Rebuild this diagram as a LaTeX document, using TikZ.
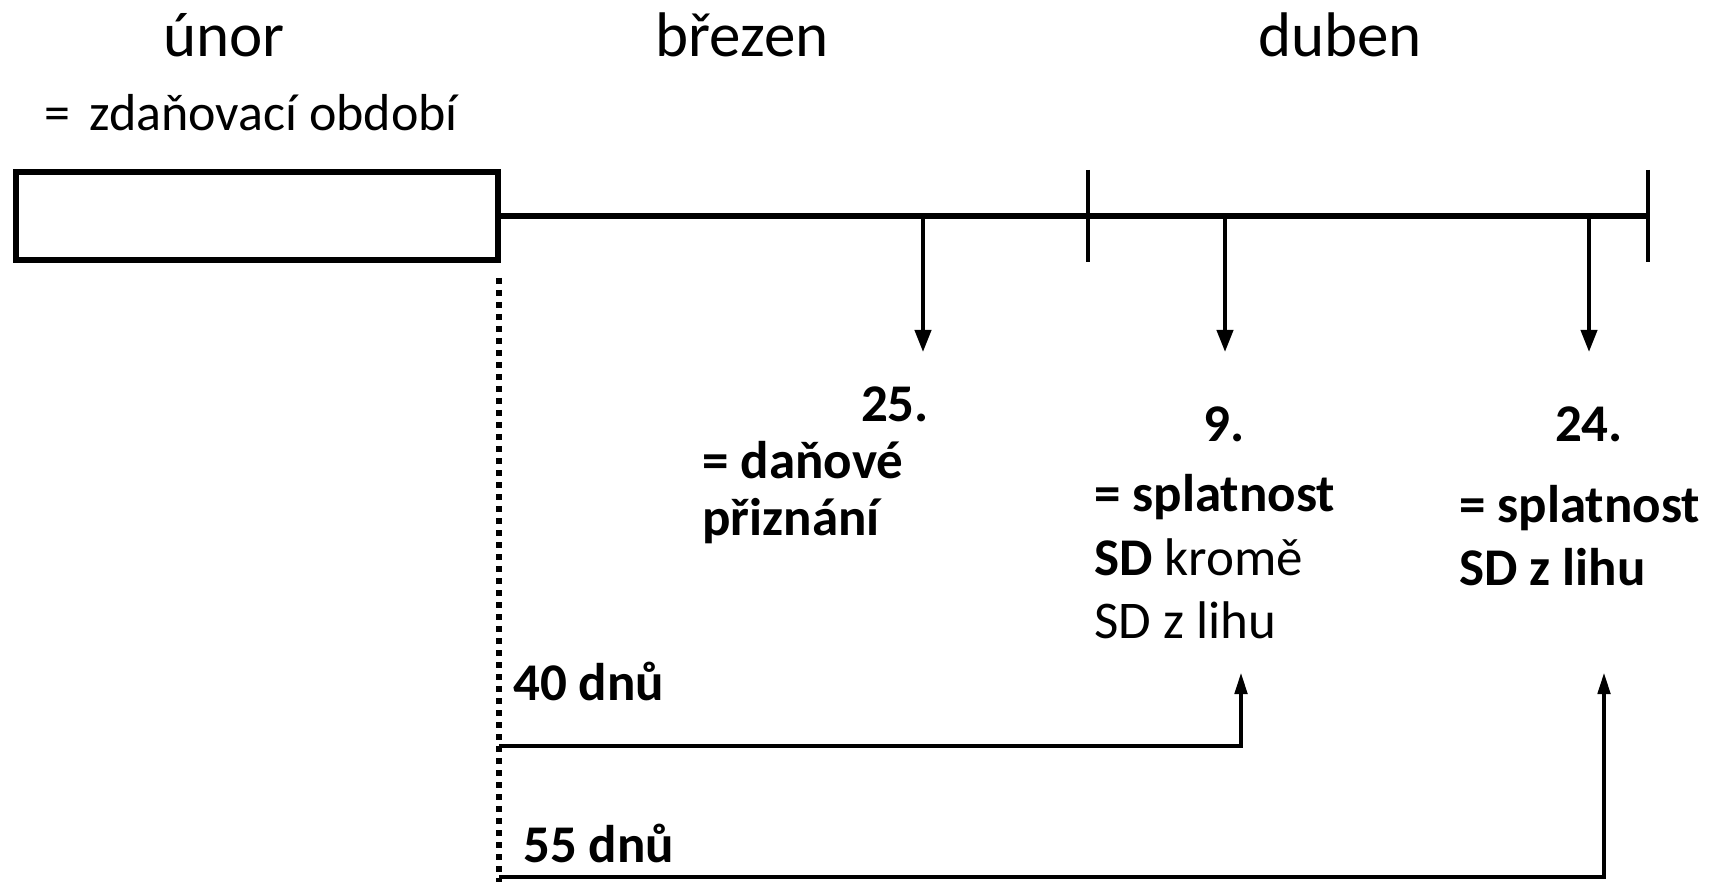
\documentclass[tikz,border=0pt]{standalone}
\usepackage{fontspec}
\setmainfont{Carlito}
\usetikzlibrary{arrows.meta}
\begin{document}
\begin{tikzpicture}[x=1pt,y=-1pt,
  month/.style={font=\fontsize{63}{75}\selectfont, anchor=base, inner sep=0},
  txt/.style={font=\fontsize{53}{64}\selectfont, anchor=base west, inner sep=0},
  btxt/.style={font=\fontsize{53}{64}\selectfont\bfseries, anchor=base west, inner sep=0},
  bnum/.style={font=\fontsize{53}{64}\selectfont\bfseries, anchor=base, inner sep=0},
  thick line/.style={line width=6pt},
  tickline/.style={line width=4.5pt},
  downarrow/.style={line width=4pt, -{Triangle[width=16pt,length=22pt]}},
  uparrow/.style={line width=4.5pt, -{Triangle[width=12pt,length=22pt]}},
  dotline/.style={line width=5.5pt, dash pattern=on 6pt off 6pt}]
\useasboundingbox (0,0) rectangle (1711,882);
% month labels
\node[month] (unor) at (224,57) {únor};
\node[month] (brezen) at (742,57) {březen};
\node[month] (duben) at (1340,57) {duben};
\node[txt, font=\fontsize{52}{62}\selectfont] (zdo) at (44,131) {=\hspace{0.38em}zdaňovací období};
% box
\node[draw, thick line, minimum width=482pt, minimum height=88pt, inner sep=0] (box) at (256.5,216) {};
% timeline
\coordinate (tend) at (1648,216);
\draw[thick line] (box.east) -- (tend);
\draw[tickline] (1088,170) coordinate (m1a) -- (1088,262) coordinate (m1b);
\draw[tickline] (1648,170) coordinate (e1a) -- (1648,262) coordinate (e1b);
% down arrows
\coordinate (a1s) at (923,218); \coordinate (a1e) at (923,352);
\coordinate (a2s) at (1225,218); \coordinate (a2e) at (1225,352);
\coordinate (a3s) at (1589,218); \coordinate (a3e) at (1589,352);
\draw[downarrow] (a1s) -- (a1e);
\draw[downarrow] (a2s) -- (a2e);
\draw[downarrow] (a3s) -- (a3e);
% labels
\node[bnum] (d25) at (895,421) {25.};
\node[btxt] (dp1) at (702,478) {= daňové};
\node[btxt] (dp2) at (702,535) {přiznání};
\node[bnum] (d9) at (1224,442) {9.};
\node[btxt] (s1) at (1094,511) {= splatnost};
\node[txt] (s2) at (1094,575) {\textbf{SD} kromě};
\node[txt] (s3) at (1094,638) {SD z lihu};
\node[bnum] (d24) at (1589,442) {24.};
\node[btxt] (l1) at (1459,522) {= splatnost};
\node[btxt] (l2) at (1459,585) {SD z lihu};
% dotted line and periods
\coordinate (dtop) at (499,278);
\coordinate (dbot) at (499,882);
\draw[dotline] (dtop) -- (dbot);
\node[btxt] (p40) at (513,700) {40 dnů};
\node[btxt] (p55) at (523,862) {55 dnů};
\coordinate (h40s) at (499,746);
\coordinate (h40c) at (1241,746);
\coordinate (h40e) at (1241,672);
\draw[uparrow] (h40s) -- (h40c) -- (h40e);
\coordinate (h55s) at (499,877);
\coordinate (h55c) at (1604,877);
\coordinate (h55e) at (1604,672);
\draw[uparrow] (h55s) -- (h55c) -- (h55e);
\end{tikzpicture}
\end{document}
